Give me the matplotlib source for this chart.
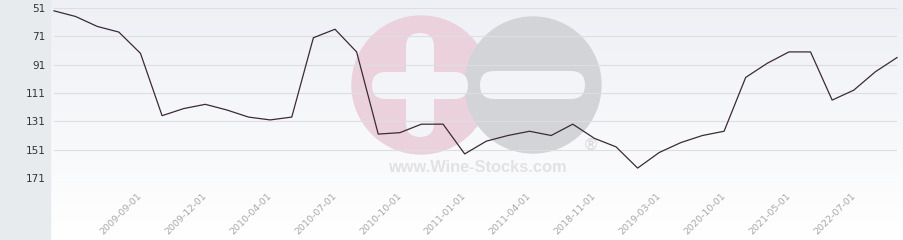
import numpy as np
import matplotlib
matplotlib.use('Agg')
import matplotlib.pyplot as plt
from matplotlib.patches import Rectangle, Circle, FancyBboxPatch

# rank over time (lower is better, axis inverted)
ranks = [53, 57, 64, 68, 83, 127, 122, 119, 123, 128, 130, 128, 72, 66, 82,
         140, 139, 133, 133, 154, 145, 141, 138, 141, 133, 143, 149, 164, 153,
         146, 141, 138, 100, 90, 82, 82, 116, 109, 96, 86]
date_labels = ["2009-09-01", "2009-12-01", "2010-04-01", "2010-07-01", "2010-10-01",
               "2011-01-01", "2011-04-01", "2018-11-01", "2019-03-01", "2020-10-01",
               "2021-05-01", "2022-07-01"]
label_pos = [4, 7, 10, 13, 16, 19, 22, 25, 28, 31, 34, 37]
y_ticks = [51, 71, 91, 111, 131, 151, 171]

W, H = 904, 240
fig = plt.figure(figsize=(W / 100, H / 100), dpi=100)

# background layer in pixel coordinates
bg = fig.add_axes([0, 0, 1, 1], zorder=0)
bg.set_xlim(0, W)
bg.set_ylim(H, 0)
bg.axis('off')
grad = np.linspace(0, 1, 100).reshape(-1, 1)
top = np.array([238, 240, 245]) / 255.
bottom = np.array([255, 255, 255]) / 255.
img = top + (bottom - top) * grad[..., None]
bg.imshow(img, extent=(50, W, H, 0), aspect='auto', interpolation='bilinear')
bg.add_patch(Rectangle((0, 0), 50, H, color='#e8ebee'))

# watermark
bg.add_patch(Circle((421, 85), 69, color='#ebd1db'))
bg.add_patch(Circle((533, 85), 68, color='#d3d4d7'))
inner = '#f3f4f8'
bg.add_patch(FancyBboxPatch((372, 72), 96, 27, boxstyle="round,pad=0,rounding_size=13.5",
                            color=inner, ec='none'))
bg.add_patch(FancyBboxPatch((406, 33), 28, 104, boxstyle="round,pad=0,rounding_size=14",
                            color=inner, ec='none'))
bg.add_patch(FancyBboxPatch((480, 71), 105, 28, boxstyle="round,pad=0,rounding_size=14",
                            color=inner, ec='none'))
bg.text(477, 167, "www.Wine-Stocks.com", ha='center', va='center', fontsize=11.8,
        fontweight='bold', color='#e2e2e4', family='Liberation Sans')
bg.text(591, 146, "\u00ae", ha='center', va='center', fontsize=12,
        fontweight='bold', color='#dcdcde', family='Liberation Sans')

# main chart
ax = fig.add_axes([54 / W, (H - 178) / H, (897 - 54) / W, (178 - 8) / H], zorder=1)
ax.patch.set_visible(False)
x = np.arange(len(ranks))
ax.plot(x, ranks, color='#3b2a36', lw=0.9, clip_on=False, zorder=3)
ax.set_xlim(0, len(ranks) - 1)
ax.set_ylim(171, 51)
ax.set_yticks(y_ticks)
ax.set_yticklabels([str(v) for v in y_ticks], fontsize=7.5, color='#333333')
ax.set_xticks(label_pos)
ax.set_xticklabels(date_labels, rotation=45, ha='right', va='center',
                   rotation_mode='anchor', fontsize=6.8, color='#a8a8a8')
ax.tick_params(axis='x', length=0, pad=12)
ax.tick_params(axis='y', length=0, pad=6)
ax.grid(axis='y', color='#dedede', lw=0.8)
ax.grid(axis='x', visible=False)
for s in ax.spines.values():
    s.set_visible(False)

fig.savefig('out.png', dpi=100)
